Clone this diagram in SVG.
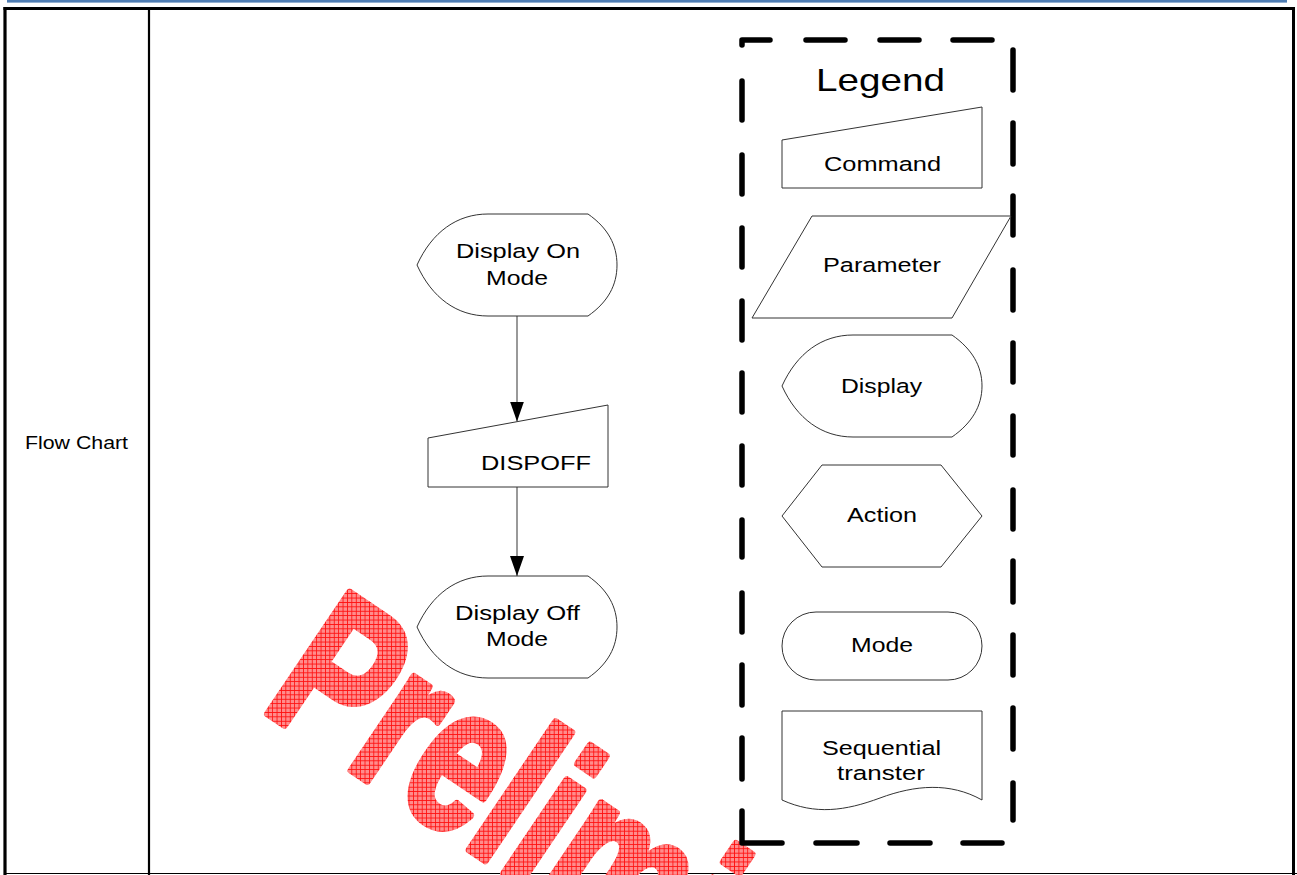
<svg xmlns="http://www.w3.org/2000/svg" width="1297" height="875" viewBox="0 0 1297 875">
<style>
.shape{fill:#fff;stroke:#333;stroke-width:1}
.lbl{font-family:"Liberation Sans",Arial,sans-serif;font-size:20.5px;fill:#000}
.conn{stroke:#555;stroke-width:1.2;fill:none}
.dash{stroke:#000;stroke-width:5.5;fill:none;stroke-linecap:round;stroke-linejoin:round}
</style>
<defs>
<marker id="arr" markerUnits="userSpaceOnUse" markerWidth="20" markerHeight="14" refX="20" refY="7" orient="auto">
<path d="M0,0 L20,7 L0,14 Z" fill="#000"/>
</marker>
<pattern id="grid" patternUnits="userSpaceOnUse" width="4.4" height="4.4" patternTransform="scale(1.408,1) rotate(-34)">
<rect width="4.4" height="4.4" fill="#ff8c8c"/>
<path d="M0,0.4 H4.4 M0.4,0 V4.4" stroke="#ff1010" stroke-width="0.9"/>
</pattern>
</defs>
<rect width="1297" height="875" fill="#fff"/>
<g id="table">
<rect x="7" y="0" width="1280" height="2.6" fill="#4f7db3"/>
<path d="M3.5,8.5 H1295" stroke="#000" stroke-width="3" fill="none"/>
<path d="M5,7 V875" stroke="#000" stroke-width="3.2" fill="none"/>
<path d="M1293.5,7 V875" stroke="#000" stroke-width="3" fill="none"/>
<path d="M149,8 V875" stroke="#000" stroke-width="2.2" fill="none"/>
<path d="M6,873.5 H1297" stroke="#000" stroke-width="1.2" fill="none"/>
<text class="lbl" x="25" y="449" style="font-size:17.5px" textLength="103" lengthAdjust="spacingAndGlyphs">Flow Chart</text>
</g>
<g id="watermark">
<text transform="translate(259,707.6) rotate(34) scale(0.71,1)" x="0" y="0" font-family="'Liberation Sans',Arial,sans-serif" font-weight="bold" font-size="212" fill="url(#grid)" stroke="url(#grid)" stroke-width="8" stroke-linejoin="round">Preliminary</text>
</g>
<g id="connectors">
<path class="conn" d="M517,316 V421.5" marker-end="url(#arr)"/>
<path class="conn" d="M517,487 V576" marker-end="url(#arr)"/>
</g>
<g id="display-on">
<path class="shape" d="M417,265 C432,232 457,214 488,214 L588,214 C608,228 617,245 617,265 C617,285 608,302 588,316 L488,316 C457,316 432,298 417,265 Z"/>
<text class="lbl" x="456" y="258" textLength="124" lengthAdjust="spacingAndGlyphs">Display On</text>
<text class="lbl" x="486" y="285" textLength="62" lengthAdjust="spacingAndGlyphs">Mode</text>
</g>
<g id="dispoff">
<path class="shape" d="M428,438 L608,405 L608,487 L428,487 Z"/>
<text class="lbl" x="481" y="470" textLength="110" lengthAdjust="spacingAndGlyphs">DISPOFF</text>
</g>
<g id="display-off">
<path class="shape" d="M417,627 C432,594 457,576 488,576 L588,576 C608,590 617,607 617,627 C617,647 608,664 588,678 L488,678 C457,678 432,660 417,627 Z"/>
<text class="lbl" x="455" y="620" textLength="125" lengthAdjust="spacingAndGlyphs">Display Off</text>
<text class="lbl" x="486" y="646" textLength="62" lengthAdjust="spacingAndGlyphs">Mode</text>
</g>
<g id="legend-box">
<path class="dash" d="M770,40 L742,40 L742,45 M742,81 V120 M742,155 V194 M742,228 V267 M742,301 V340 M742,373 V412 M742,446 V485 M742,520 V557 M742,593 V632 M742,665 V705 M742,738 V779 M742,811 L742,843 L782,843 M816,843 H857 M890,843 H930 M963,843 H1002 M806,40 H845 M880,40 H919 M953,40 H992 M1013,50 V90 M1013,123 V164 M1013,196 V235 M1013,270 V310 M1013,343 V382 M1013,416 V455 M1013,490 V529 M1013,561 V602 M1013,635 V675 M1013,708 V749 M1013,783 V820"/>
<text class="lbl" x="816" y="91" style="font-size:32px" textLength="129" lengthAdjust="spacingAndGlyphs">Legend</text>
</g>
<g id="legend-command">
<path class="shape" d="M782,140 L982,107 L982,188 L782,188 Z"/>
<text class="lbl" x="824" y="171" textLength="117" lengthAdjust="spacingAndGlyphs">Command</text>
</g>
<g id="legend-parameter">
<path class="shape" d="M812,216 L1011,216 L952,318 L752,318 Z"/>
<text class="lbl" x="823" y="272" textLength="118" lengthAdjust="spacingAndGlyphs">Parameter</text>
</g>
<g id="legend-display">
<path class="shape" d="M782,386 C797,353 822,335 853,335 L952,335 C972,349 982,366 982,386 C982,406 972,423 952,437 L853,437 C822,437 797,419 782,386 Z"/>
<text class="lbl" x="841" y="393" textLength="81" lengthAdjust="spacingAndGlyphs">Display</text>
</g>
<g id="legend-action">
<path class="shape" d="M782,516 L822,465 L941,465 L982,516 L941,567 L822,567 Z"/>
<text class="lbl" x="847" y="522" textLength="70" lengthAdjust="spacingAndGlyphs">Action</text>
</g>
<g id="legend-mode">
<rect class="shape" x="782" y="612" width="200" height="68" rx="34" ry="34"/>
<text class="lbl" x="851" y="652" textLength="62" lengthAdjust="spacingAndGlyphs">Mode</text>
</g>
<g id="legend-sequential">
<path class="shape" d="M782,711 L982,711 L982,800 C950,782 915,785 880,798 C845,811 815,815 782,800 Z"/>
<text class="lbl" x="822" y="755" textLength="119" lengthAdjust="spacingAndGlyphs">Sequential</text>
<text class="lbl" x="837" y="780" textLength="88" lengthAdjust="spacingAndGlyphs">transter</text>
</g>
</svg>
